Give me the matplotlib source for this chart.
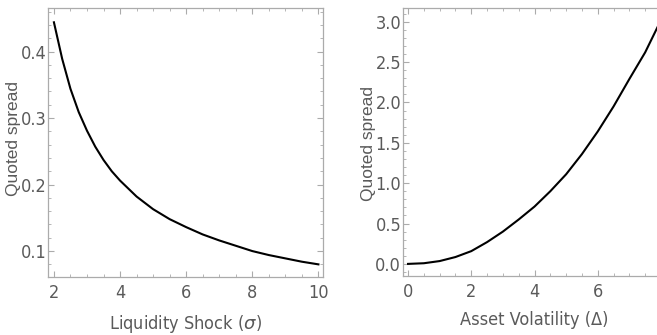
import matplotlib
matplotlib.use("Agg")
import matplotlib.pyplot as plt
from matplotlib.ticker import MultipleLocator
from matplotlib import font_manager as fm

# Left panel: Liquidity shock (sigma) vs quoted spread
sigma = [2.0, 2.25, 2.5, 2.75, 3.0, 3.25, 3.5, 3.75, 4.0, 4.5, 5.0, 5.5, 6.0, 6.5, 7.0, 7.5, 8.0, 8.5, 9.0, 9.5, 10.0]
spread_sigma = [0.444, 0.389, 0.344, 0.309, 0.281, 0.257, 0.237, 0.220, 0.206, 0.182, 0.163, 0.148, 0.136, 0.125, 0.116, 0.108, 0.100, 0.094, 0.089, 0.084, 0.080]

# Right panel: Asset volatility (Delta) vs quoted spread
delta = [0.0, 0.5, 1.0, 1.5, 2.0, 2.5, 3.0, 3.5, 4.0, 4.5, 5.0, 5.5, 6.0, 6.5, 7.0, 7.5, 7.9]
spread_delta = [0.0, 0.008, 0.035, 0.085, 0.158, 0.27, 0.40, 0.55, 0.71, 0.90, 1.11, 1.36, 1.64, 1.95, 2.29, 2.62, 2.94]

left_xticks = [2, 4, 6, 8, 10]
left_yticks = [0.1, 0.2, 0.3, 0.4]
right_xticks = [0, 2, 4, 6, 8]
right_xlabels = ['0', '2', '4', '6', '']
right_yticks = [0.0, 0.5, 1.0, 1.5, 2.0, 2.5, 3.0]

names = {f.name for f in fm.fontManager.ttflist}
cond = [f for f in fm.fontManager.ttflist if f.name == 'DejaVu Sans' and 'ondensed' in f.fname and 'Bold' not in f.fname and 'Oblique' not in f.fname]
if 'Liberation Sans Narrow' in names:
    narrow = dict(family='Liberation Sans Narrow')
elif cond:
    narrow = dict(family='DejaVu Sans', stretch='condensed')
else:
    narrow = dict(family='DejaVu Sans')
wide = ['Liberation Sans', 'DejaVu Sans']
plt.rcParams['mathtext.fontset'] = 'dejavusans'

W, H = 657, 335
fig = plt.figure(figsize=(W / 100, H / 100), dpi=100)

spine_c = '#ababab'
label_c = '#5a5a5a'
TS = 13
YS = 12.5

def px_axes(x0, x1, ytop, ybot):
    return fig.add_axes([x0 / W, 1 - ybot / H, (x1 - x0) / W, (ybot - ytop) / H])

def style(ax):
    for s in ax.spines.values():
        s.set_color(spine_c)
        s.set_linewidth(0.9)
    ax.tick_params(which='both', direction='in', top=True, right=True,
                   color=spine_c, labelcolor=label_c)
    ax.tick_params(which='major', length=4, width=0.8, labelsize=TS)
    ax.tick_params(which='minor', length=2.2, width=0.6)
    ax.tick_params(axis='y', pad=1.5)
    ax.tick_params(axis='x', pad=5)
    for lab in ax.get_xticklabels() + ax.get_yticklabels():
        lab.set_family(narrow['family'])
        if 'stretch' in narrow:
            lab.set_stretch(narrow['stretch'])

ax1 = px_axes(48.3, 322.7, 8, 277)
ax1.plot(sigma, spread_sigma, color='black', lw=1.5)
ax1.set_xlim(1.83, 10.13)
ax1.set_ylim(0.061, 0.4655)
ax1.set_xticks(left_xticks)
ax1.set_yticks(left_yticks)
ax1.set_xticklabels([str(v) for v in left_xticks])
ax1.set_yticklabels([f"{v:.1f}" for v in left_yticks])
ax1.xaxis.set_minor_locator(MultipleLocator(0.5))
ax1.yaxis.set_minor_locator(MultipleLocator(0.02))
style(ax1)
ax1.set_xlabel(r'Liquidity Shock ($\sigma$)', fontsize=TS, color=label_c, **narrow)
ax1.set_ylabel('Quoted spread', family=wide, fontsize=YS, color=label_c)
ax1.xaxis.set_label_coords(0.5, -0.132)
ax1.yaxis.set_label_coords(-0.098, 0.515)

ax2 = px_axes(403.3, 665.7, 8, 276)
ax2.plot(delta, spread_delta, color='black', lw=1.5)
ax2.set_xlim(-0.15, 8.15)
ax2.set_ylim(-0.15, 3.17)
ax2.set_xticks(right_xticks)
ax2.set_yticks(right_yticks)
ax2.set_xticklabels(right_xlabels)
ax2.set_yticklabels([f"{v:.1f}" for v in right_yticks])
ax2.xaxis.set_minor_locator(MultipleLocator(0.5))
ax2.yaxis.set_minor_locator(MultipleLocator(0.1))
style(ax2)
ax2.set_xlabel('Asset Volatility (Δ)', fontsize=TS, color=label_c, **narrow)
ax2.set_ylabel('Quoted spread', family=wide, fontsize=YS, color=label_c)
ax2.xaxis.set_label_coords(0.5, -0.132)
ax2.yaxis.set_label_coords(-0.103, 0.495)

fig.savefig('out.png', dpi=100)
